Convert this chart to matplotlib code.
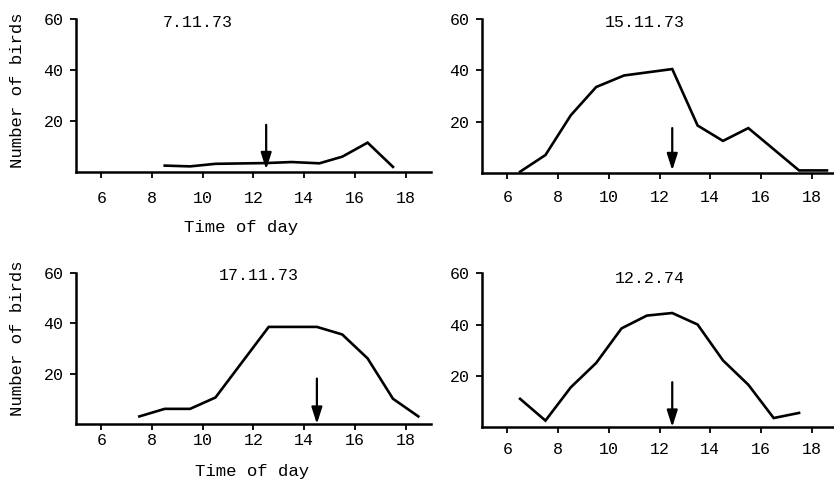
import matplotlib.pyplot as plt

plt.rcParams['font.family'] = ['Liberation Mono', 'DejaVu Sans Mono']

# Bird counts per hour for each observation date
dates = ['7.11.73', '15.11.73', '17.11.73', '12.2.74']

hours_1 = [8.5, 9.5, 10.5, 12.5, 13.5, 14.6, 15.5, 16.5, 17.5]
birds_1 = [2.5, 2.2, 3.2, 3.5, 3.9, 3.4, 6, 11.5, 2]

hours_2 = [6.5, 7.5, 8.5, 9.5, 10.6, 12.5, 13.5, 14.5, 15.5, 17.5, 18.6]
birds_2 = [0.5, 7, 22.5, 33.5, 38, 40.5, 18.5, 12.5, 17.5, 1, 1]

hours_3 = [7.5, 8.5, 9.5, 10.5, 12.6, 13.5, 14.5, 15.5, 16.5, 17.5, 18.5]
birds_3 = [3, 6, 6, 10.5, 38.5, 38.5, 38.5, 35.5, 26, 10, 3]

hours_4 = [6.5, 7.5, 8.5, 9.5, 10.5, 11.5, 12.5, 13.5, 14.5, 15.5, 16.5, 17.5]
birds_4 = [11, 2.5, 15.5, 25, 38.5, 43.5, 44.5, 40, 26, 16.5, 3.5, 5.5]

# arrow markers (time, top of shaft, tip)
arrow_x = [12.5, 12.5, 14.5, 12.5]
arrow_top = [18.5, 17.5, 18, 17.5]
arrow_tip = [1, 1, 0, 0]

# where the date label sits inside each panel (time, count)
date_pos = [(9.8, 58.8), (11.4, 58.5), (12.2, 58.8), (11.6, 58.0)]

hours = [hours_1, hours_2, hours_3, hours_4]
birds = [birds_1, birds_2, birds_3, birds_4]

fig = plt.figure(figsize=(8.34, 4.8), dpi=100)
rects = [
    [0.0911, 0.6417, 0.4257, 0.3188],
    [0.5780, 0.6396, 0.4257, 0.3208],
    [0.0911, 0.1167, 0.4257, 0.3152],
    [0.5780, 0.1104, 0.4257, 0.3202],
]
xpads = [9.4, 8.2, 2.5, 6.8]

for i in range(4):
    ax = fig.add_axes(rects[i])
    ax.plot(hours[i], birds[i], color='black', lw=1.9, solid_joinstyle='miter')
    ax.annotate('', xy=(arrow_x[i], arrow_tip[i]), xytext=(arrow_x[i], arrow_top[i]),
                arrowprops=dict(arrowstyle='-|>,head_length=0.5,head_width=0.16',
                                color='black', lw=1.6, mutation_scale=20,
                                shrinkA=0, shrinkB=0))
    ax.text(date_pos[i][0], date_pos[i][1], dates[i], ha='center', va='center', fontsize=12)

    ax.set_xlim(5, 19)
    ax.set_ylim(0, 60)
    ax.set_xticks(range(6, 19, 2))
    ax.set_yticks([20, 40, 60])
    for side in ['top', 'right']:
        ax.spines[side].set_visible(False)
    for side in ['left', 'bottom']:
        ax.spines[side].set_linewidth(1.8)
    ax.tick_params(axis='both', direction='out', length=4, width=1.3, labelsize=12)
    ax.tick_params(axis='x', pad=xpads[i])
    ax.tick_params(axis='y', pad=5)

    if i % 2 == 0:
        ax.set_ylabel('Number of birds', fontsize=12.5)
        ax.yaxis.label.set_va('center')
        ax.yaxis.set_label_coords(-0.166, 0.536 if i == 0 else 0.57)
        ax.set_xlabel('Time of day', fontsize=12.5)
        ax.xaxis.set_label_coords(0.466 if i == 0 else 0.497, -0.314 if i == 0 else -0.262)

plt.savefig('out.png', dpi=100)
